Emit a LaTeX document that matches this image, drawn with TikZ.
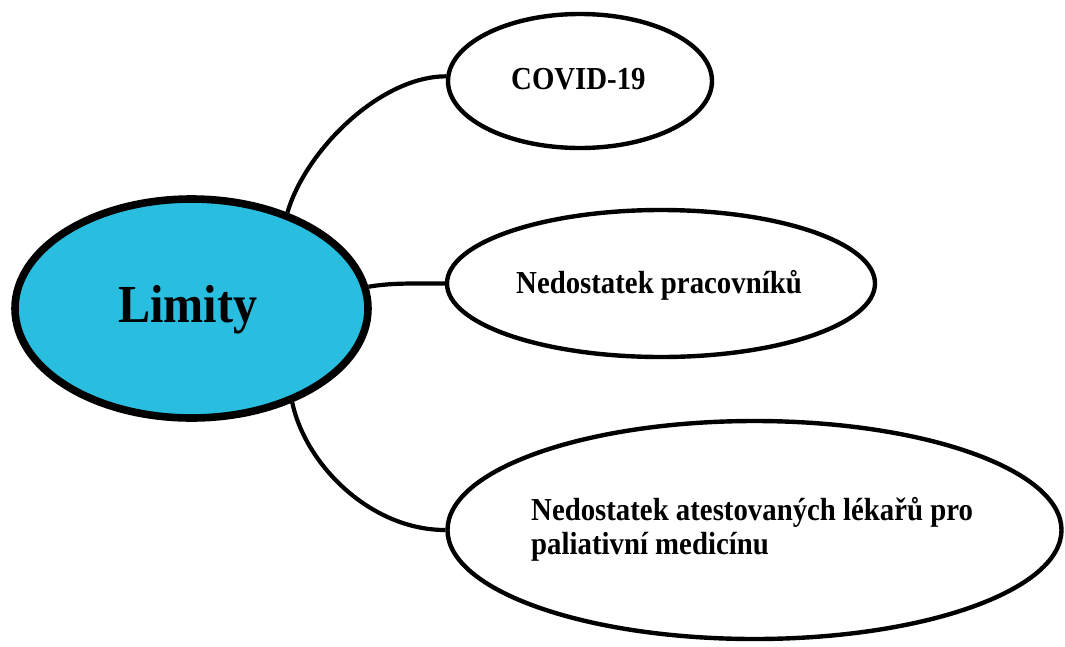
\documentclass[tikz,border=0pt]{standalone}
\usepackage{fontspec}
\newfontfamily\dgfont[FakeStretch=0.9]{Liberation Serif}
\usetikzlibrary{shapes.geometric}
\definecolor{limitblue}{RGB}{41,189,223}
\begin{document}
\begin{tikzpicture}[x=1pt,y=-1pt,
  bubble/.style={ellipse, draw=black, line width=4.4pt, fill=white, inner sep=0pt},
  hub/.style={ellipse, draw=black, line width=7.6pt, fill=limitblue, inner sep=0pt},
  captext/.style={inner sep=0pt, anchor=base west, text=black,
    font=\dgfont\bfseries\fontsize{32}{33.5}\selectfont},
  link/.style={draw=black, line width=4.2pt}]
\useasboundingbox (0,0) rectangle (1065,646);

% central topic and the three branches
\node[hub, minimum width=353pt, minimum height=219pt] (hub) at (191.5,308.5) {};
\node[bubble, minimum width=264pt, minimum height=134pt] (covid) at (580,81) {};
\node[bubble, minimum width=428pt, minimum height=147pt] (pr) at (661,283.5) {};
\node[bubble, minimum width=614pt, minimum height=218pt] (tl) at (754.5,530) {};

% connectors
\draw[link] (hub.45) .. controls +(18,-62) and +(-66,0) .. (covid.178.5);
\draw[link] (hub.7) .. controls +(22,-4) and +(-30,0) .. (pr.west);
\draw[link] (hub.-43) .. controls +(13,62) and +(-75,0) .. (tl.west);

% texts
\node[captext, font=\dgfont\bfseries\fontsize{53.5}{56}\selectfont] (thub) at (118,322) {Limity};
\node[captext] (tcovid) at (511,89) {COVID-19};
\node[captext] (tpr) at (516,293) {Nedostatek pracovníků};
\node[captext] (ttl) at (531,520.7) {\vtop{\baselineskip=33.3pt
  \hbox{Nedostatek atestovaných lékařů pro}
  \hbox{paliativní medicínu}}};
\end{tikzpicture}
\end{document}
